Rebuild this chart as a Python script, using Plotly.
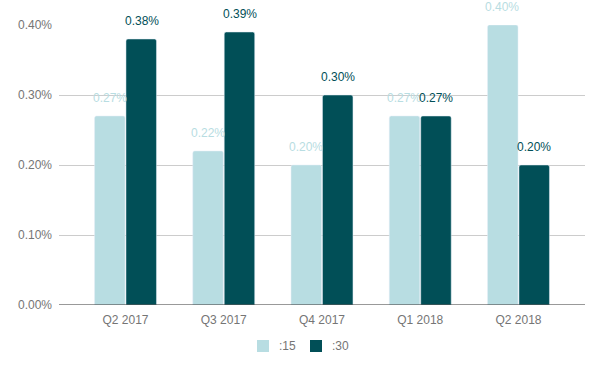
import plotly.graph_objects as go

categories = ["Q2 2017", "Q3 2017", "Q4 2017", "Q1 2018", "Q2 2018"]
s15 = [0.27, 0.22, 0.20, 0.27, 0.40]
s30 = [0.38, 0.39, 0.30, 0.27, 0.20]
series_names = [":15", ":30"]
yticks = [0, 0.1, 0.2, 0.3, 0.4]
ytick_labels = ["0.00%", "0.10%", "0.20%", "0.30%", "0.40%"]

light = "#b8dde2"
dark = "#014f57"
colors = [light, dark]

W, H = 604, 371
L, R, T, B = 59, 19, 25, 66
pw, ph = W - L - R, H - T - B

fig = go.Figure()
fig.add_bar(x=categories, y=s15, name=series_names[0], marker=dict(color=light, cornerradius=2))
fig.add_bar(x=categories, y=s30, name=series_names[1], marker=dict(color=dark, cornerradius=2))

for vals, col, shift in [(s15, light, -16), (s30, dark, 16)]:
    for c, v in zip(categories, vals):
        fig.add_annotation(x=c, y=v, xref="x", yref="y", text=f"{v:.2f}%", showarrow=False,
                           xshift=shift, yshift=9, yanchor="bottom",
                           font=dict(family="Arial, Liberation Sans", size=12, color=col))

# custom legend (pixel positions converted to paper coords)
shapes = [dict(type="line", xref="paper", yref="y", x0=0, x1=1, y0=0, y1=0,
               line=dict(color="#333333", width=1))]
legend_x = [257, 310]
for name, col, px in zip(series_names, colors, legend_x):
    shapes.append(dict(type="rect", xref="paper", yref="paper",
                       x0=(px - L) / pw, x1=(px + 12 - L) / pw,
                       y0=(H - B - 340) / ph, y1=(H - B - 352) / ph,
                       fillcolor=col, line=dict(width=0)))
    fig.add_annotation(x=(px + 20 - L) / pw, y=(H - B - 346) / ph, xref="paper", yref="paper",
                       text=name, showarrow=False, xanchor="left", yanchor="middle",
                       font=dict(family="Arial, Liberation Sans", size=12, color="#757575"))

fig.update_layout(
    width=W, height=H,
    margin=dict(l=L, r=R, t=T, b=B, autoexpand=False),
    plot_bgcolor="white", paper_bgcolor="white",
    barmode="group", bargap=0.36, bargroupgap=0.03,
    font=dict(family="Arial, Liberation Sans", size=12, color="#757575"),
    showlegend=False,
    xaxis=dict(range=[-0.677, 4.677], showgrid=False, ticks="", showline=False, automargin=False,
               tickfont=dict(color="#757575", size=12), zeroline=False, ticklabelstandoff=6),
    yaxis=dict(range=[0, 0.4], tickvals=yticks, ticktext=ytick_labels, showgrid=True, automargin=False,
               gridcolor="#cccccc", gridwidth=1, zeroline=False, showline=False,
               ticks="", ticklabelstandoff=6, tickfont=dict(color="#757575", size=12)),
    shapes=shapes,
)

fig.write_html("out.html", config={"displayModeBar": False},
               post_script="document.body.style.margin='0';")
